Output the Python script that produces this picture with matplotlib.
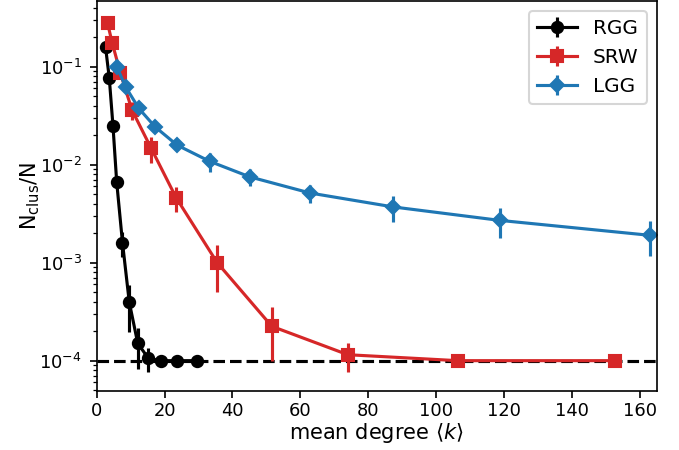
import matplotlib
matplotlib.use('Agg')
import matplotlib.pyplot as plt


# mean degree <k> and normalised cluster count for each model
rgg_k = [2.6, 3.7, 4.8, 5.9, 7.6, 9.6, 12.1, 15.2, 18.8, 23.7, 29.6]
rgg_n = [0.159, 0.077, 0.0248, 6.6e-3, 1.6e-3, 3.95e-4, 1.5e-4, 1.06e-4, 1.0e-4, 1.0e-4, 1.0e-4]
rgg_err = [0.01, 0.006, 0.003, 1.0e-3, 4.5e-4, 2.0e-4, 6.7e-5, 3.0e-5, 5e-6, 2e-6, 1e-6]

srw_k = [3.2, 4.6, 7.0, 10.4, 16.0, 23.4, 35.5, 51.6, 74.0, 106.4, 152.8]
srw_n = [0.277, 0.173, 0.0857, 0.036, 0.0148, 4.6e-3, 1.0e-3, 2.24e-4, 1.15e-4, 1.0e-4, 1.0e-4]
srw_err = [0.02, 0.015, 0.01, 0.0075, 0.0043, 1.3e-3, 5e-4, 1.25e-4, 3.75e-5, 1e-6, 1e-6]

lgg_k = [5.9, 8.6, 12.4, 17.2, 23.7, 33.3, 45.1, 62.9, 87.4, 118.7, 163.0]
lgg_n = [0.1, 0.0615, 0.0375, 0.0243, 0.0158, 0.0108, 7.5e-3, 5.13e-3, 3.7e-3, 2.7e-3, 1.9e-3]
lgg_err = [0.008, 0.005, 0.003, 0.002, 0.0015, 2.3e-3, 1.5e-3, 1.1e-3, 1.1e-3, 0.9e-3, 0.73e-3]

xticks = [0, 20, 40, 60, 80, 100, 120, 140, 160]
baseline = 1e-4  # 1/N


def plot_clusters():
    fig, ax = plt.subplots(figsize=(679 / 150, 450 / 150), dpi=150)

    # 基线
    ax.axhline(baseline, color='k', ls='--', lw=1.5)

    ax.errorbar(rgg_k, rgg_n, yerr=rgg_err, marker='o', ms=5.4, color='k', label='RGG')
    ax.errorbar(srw_k, srw_n, yerr=srw_err, marker='s', ms=5.4, color='tab:red', label='SRW')
    ax.errorbar(lgg_k, lgg_n, yerr=lgg_err, marker='D', ms=5.0, color='tab:blue', label='LGG')

    ax.set_yscale('log')
    ax.set_xlim(0, 165)
    ax.set_ylim(4.94e-5, 0.468)
    ax.set_xticks(xticks)
    ax.tick_params(labelsize=8.6)
    ax.tick_params(axis='x', pad=1.8)
    ax.set_xlabel(r'mean degree $\langle k \rangle$', fontsize=10, labelpad=0.8)
    ax.set_ylabel(r'N$_{\rm clus}$/N', fontsize=10, labelpad=-1)
    ax.legend(loc='upper right', fontsize=9.6)

    fig.subplots_adjust(left=0.1424, right=0.9672, bottom=0.1318, top=0.998)
    fig.savefig('out.png', dpi=150)


if __name__ == '__main__':
    plot_clusters()
